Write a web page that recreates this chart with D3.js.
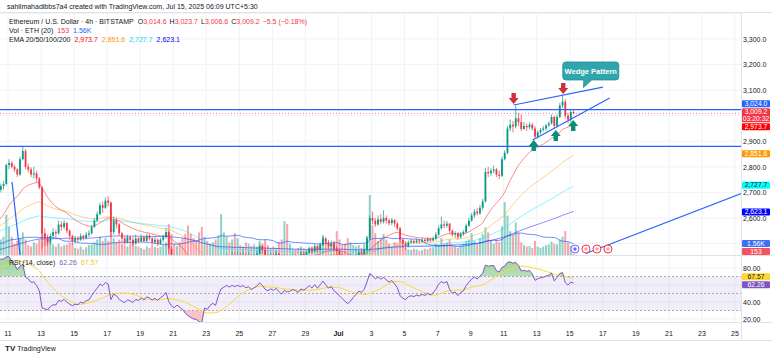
<!DOCTYPE html>
<html>
<head>
<meta charset="utf-8">
<title>ETHUSD 4h</title>
<style>
	body { margin: 0; background: #fff; }
	svg { display: block; font-family: "Liberation Sans", Arial, sans-serif; }
</style>
</head>
<body>
<svg id="chart" width="780" height="358"></svg>
<script src="https://cdn.jsdelivr.net/npm/d3@7"></script>
<script>
// ---- data (4h candles, chart time UTC+5:30, first candle Jun 6 01:30) ----
const firstCandle = "2025-06-06 01:30"
const firstOpen = 2420

const closes = [
	2430,2445,2460,2475,2480,2478, 2485,2495,2510,2520,2515,2525, 2520,2510,2505,2515,2500,2510,
	2500,2520,2540,2600,2650,2680, 2690,2700,2710,2725,2733,2807,
	2815,2800,2790,2770,2830,2862, 2800,2790,2770,2775,2755,2720, 2540,2525,2505,2530,2545,2540,
	2575,2565,2580,2550,2530,2510, 2520,2515,2530,2522,2535,2540, 2565,2590,2615,2650,2640,2668,
	2660,2545,2590,2575,2540,2520, 2505,2525,2515,2500,2520,2510, 2525,2510,2530,2520,2505,2515,
	2500,2515,2525,2545,2480,2440, 2420,2435,2410,2390,2340,2300, 2270,2240,2230,2180,2150,2240,
	2220,2250,2265,2240,2320,2400, 2420,2445,2430,2450,2440,2455, 2445,2455,2440,2450,2430,2445,
	2460,2490,2475,2450,2440,2455, 2445,2460,2440,2425,2450,2440, 2445,2455,2450,2440,2460,2455,
	2465,2480,2470,2490,2475,2495, 2520,2505,2490,2500,2480,2470, 2455,2440,2425,2410,2420,2435,
	2450,2465,2460,2475,2520,2600, 2590,2575,2595,2585,2600,2590, 2580,2592,2578,2560,2515,2500,
	2490,2505,2510,2505,2512,2508, 2515,2510,2518,2512,2520,2535, 2560,2575,2570,2578,2550,2535,
	2540,2525,2538,2545,2570,2590, 2610,2625,2618,2640,2665,2780, 2775,2785,2790,2770,2765,2830,
	2855,2950,2965,2958,2990,2975, 2948,2960,2955,2965,2950,2918, 2935,2945,2950,2962,2970,2995,
	2960,2995,3040,3055,3000,2985, 3014.6,3009.2
]
const highs = [
	2440,2452,2468,2482,2490,2488, 2492,2502,2518,2530,2526,2532, 2532,2526,2516,2522,2520,2516,
	2515,2528,2548,2610,2660,2690, 2705,2712,2720,2735,2745,2812,
	2830,2822,2808,2795,2840,2878, 2870,2812,2798,2800,2785,2760, 2725,2560,2535,2540,2560,2555,
	2590,2588,2592,2585,2555,2535, 2530,2528,2540,2535,2545,2552, 2572,2600,2625,2660,2665,2680,
	2685,2665,2605,2600,2580,2545, 2530,2535,2530,2525,2535,2525, 2535,2530,2540,2538,2525,2528,
	2520,2522,2535,2560,2550,2490, 2450,2445,2440,2420,2400,2350, 2310,2285,2260,2245,2200,2255,
	2260,2270,2290,2280,2340,2420, 2440,2460,2455,2470,2465,2470, 2465,2470,2462,2468,2458,2460,
	2470,2498,2495,2485,2460,2465, 2462,2470,2465,2450,2460,2458, 2455,2462,2460,2455,2470,2468,
	2472,2488,2485,2498,2495,2505, 2528,2525,2515,2512,2505,2490, 2478,2462,2450,2435,2432,2445,
	2458,2472,2475,2482,2530,2610, 2625,2600,2610,2615,2630,2610, 2598,2600,2595,2585,2565,2520,
	2510,2512,2518,2515,2520,2518, 2522,2520,2525,2522,2528,2545, 2570,2605,2590,2588,2580,2555,
	2548,2545,2546,2552,2578,2600, 2620,2635,2640,2652,2675,2795, 2800,2795,2805,2795,2785,2840,
	2865,2960,2985,2980,3040,3010, 3005,2975,2970,2975,2972,2960, 2942,2952,2960,2968,2978,3005,
	3000,3005,3050,3080,3065,3010, 3022,3023.7
]
const lows = [
	2412,2425,2440,2455,2468,2470, 2472,2480,2490,2505,2508,2510, 2512,2502,2495,2500,2492,2495,
	2490,2495,2515,2535,2595,2640, 2668,2680,2690,2700,2712,2728,
	2790,2795,2780,2760,2765,2825, 2790,2778,2760,2755,2740,2712, 2480,2490,2490,2495,2520,2525,
	2535,2550,2555,2540,2515,2495, 2500,2505,2510,2512,2515,2525, 2535,2560,2585,2610,2620,2635,
	2645,2530,2535,2560,2530,2505, 2495,2500,2500,2490,2495,2500, 2505,2505,2508,2512,2495,2500,
	2490,2495,2505,2520,2460,2420, 2405,2410,2395,2370,2320,2280, 2240,2220,2200,2150,2111,2140,
	2200,2210,2240,2225,2235,2310, 2395,2410,2415,2425,2420,2430, 2430,2435,2425,2430,2415,2420,
	2440,2455,2460,2440,2425,2430, 2435,2440,2425,2410,2420,2430, 2435,2440,2442,2432,2438,2448,
	2450,2460,2462,2468,2465,2470, 2490,2495,2480,2485,2470,2455, 2445,2430,2415,2395,2400,2412,
	2428,2445,2448,2455,2470,2515, 2575,2565,2570,2575,2578,2578, 2570,2572,2565,2552,2505,2485,
	2475,2485,2498,2498,2500,2500, 2502,2502,2505,2505,2508,2512, 2530,2555,2560,2562,2540,2528,
	2522,2515,2520,2530,2540,2565, 2585,2600,2610,2612,2630,2660, 2760,2765,2775,2760,2752,2760,
	2825,2850,2940,2935,2950,2960, 2940,2945,2940,2948,2942,2910, 2912,2928,2938,2942,2955,2965,
	2948,2955,2990,3030,2990,2970, 2975,3006.6
]
// volume, thousand ETH
const volumes = [
	2.6,2.0,1.8,1.6,1.5,1.2, 1.0,1.1,1.4,1.3,1.0,0.9, 0.8,0.9,1.0,1.2,1.1,1.0,
	1.2,1.5,1.8,3.2,3.6,2.8, 2.4,2.0,1.8,2.2,2.6,5.7,
	4.0,2.6,1.6,2.0,2.4,3.2, 2.2,1.4,1.2,1.8,1.6,2.2, 4.0,3.0,2.2,1.8,1.5,1.2,
	1.6,1.2,1.4,1.5,1.8,1.6, 1.0,0.9,1.2,0.8,1.1,1.4, 1.5,1.8,2.2,2.6,2.0,2.4,
	2.0,3.6,2.4,1.8,2.2,1.6, 1.4,1.2,1.6,1.8,1.3,1.2, 1.0,0.8,1.2,1.0,1.4,1.1,
	1.0,1.2,1.5,1.8,4.4,3.0, 1.6,1.3,1.8,2.4,3.0,4.2, 3.0,2.4,2.0,3.2,4.0,2.6,
	2.0,1.6,1.8,2.2,2.8,5.8, 3.2,2.6,1.8,2.2,3.1,2.4, 1.4,1.2,1.8,1.6,1.3,1.5,
	1.2,2.0,1.6,2.2,1.4,1.0, 1.2,1.0,1.8,2.2,4.8,4.4, 1.6,0.9,0.8,1.0,1.2,0.9,
	0.8,1.0,1.2,0.9,1.1,1.6, 2.8,1.8,1.4,1.6,2.0,3.4, 2.2,1.4,1.6,2.4,1.8,1.4,
	1.2,1.4,1.0,1.6,2.6,8.5, 4.2,3.1,2.0,2.4,3.0,2.2, 1.6,1.2,1.8,1.6,2.6,2.2,
	1.0,0.8,0.7,0.9,0.8,0.6, 0.7,0.9,0.8,1.0,1.1,1.6, 1.4,2.4,1.6,1.8,2.2,1.4,
	1.2,1.0,1.4,1.6,2.0,2.2, 3.1,2.0,1.6,2.4,3.0,3.9, 3.2,2.0,1.6,2.2,1.8,4.1,
	7.5,5.6,3.4,2.8,4.6,3.2, 1.8,1.4,1.2,1.3,1.0,2.0, 1.2,1.0,1.2,1.4,1.5,1.9,
	1.6,1.5,2.2,2.6,3.4,1.8, 1.3,0.153
]

const emaPeriods = [20, 50, 100, 200]
const emaSeeds = [2550, 2580, 2548, 2455]
const emaValues = [2973.7, 2851.6, 2727.7, 2623.1]

const ohlc = ["3,014.6", "3,023.7", "3,006.6", "3,009.2"]
const change = "\u22125.5 (\u22120.18%)"
const volLast = 0.153, volAvg = 1.56
const rsiLast = 62.26, rsiAvg = 67.57
const lastPrice = 3009.2
const countdown = "03:20:32"

const priceTicks = [2500, 2600, 2700, 2800, 2900, 3000, 3100, 3200, 3300, 3400]
const rsiTicks = [20, 40, 60, 80]
const tickDates = ["2025-06-11","2025-06-13","2025-06-15","2025-06-17","2025-06-19","2025-06-21",
	"2025-06-23","2025-06-25","2025-06-27","2025-06-29","2025-07-01","2025-07-03","2025-07-05",
	"2025-07-07","2025-07-09","2025-07-11","2025-07-13","2025-07-15","2025-07-17","2025-07-19",
	"2025-07-21","2025-07-23","2025-07-25"]
const tickLabels = ["11","13","15","17","19","21","23","25","27","29","Jul","3","5","7","9","11","13","15","17","19","21","23","25"]

// drawings
const levelPrices = [3024, 2880]
const trendStarts = ["2025-07-11 14:30", "2025-07-12 18:10", "2025-07-15 23:15", "2025-06-11 05:50"]
const trendStartPrices = [3042, 2905, 2461, 2741]
const trendEnds = ["2025-07-17 00:00", "2025-07-17 10:00", "2025-07-25 11:30", "2025-06-11 17:30"]
const trendEndPrices = [3112, 3069, 2698, 2455]
const sellArrowTimes = ["2025-07-11 14:30", "2025-07-14 14:30"]
const sellArrowPrices = [3046, 3085]
const buyArrowTimes = ["2025-07-12 19:40", "2025-07-14 03:40", "2025-07-15 05:00"]
const buyArrowPrices = [2905, 2944, 2983]
const calloutText = "Wedge Pattern"
const calloutTime = "2025-07-16 06:30", calloutPrice = 3175
const calloutTipTime = "2025-07-15 19:50", calloutTipPrice = 3110
const eventTimes = ["2025-07-15 07:30", "2025-07-15 23:30", "2025-07-16 15:30", "2025-07-17 07:30"]

// ---- layout ----
const plotRight = 741
const mainTop = 13, mainBottom = 255
const rsiTop = 256, rsiBottom = 322
const axisX = 743
const up = "#089981", down = "#f23645"
const emaColors = ["#ff0000", "#ff9800", "#00e5ff", "#0000ff"]
const textCol = "#131722"

const parseDay = d3.utcParse("%Y-%m-%d")
const parseTime = d3.utcParse("%Y-%m-%d %H:%M")
const stepMs = 4 * 3600 * 1000
const t0 = parseTime(firstCandle).getTime()

const candles = closes.map((c, i) => ({
	t: new Date(t0 + i * stepMs),
	o: i ? closes[i - 1] : firstOpen,
	h: highs[i], l: lows[i], c: c, v: volumes[i]
}))

function ema(vals, n, seed) {
	const k = 2 / (n + 1)
	let e = seed
	return vals.map(v => e = e + k * (v - e))
}
function sma(vals, n) {
	return vals.map((v, i) => {
		if (i < n - 1) return null
		const part = vals.slice(i - n + 1, i + 1)
		if (part.some(p => p == null)) return null
		return d3.mean(part)
	})
}
function rsi(vals, n) {
	const out = vals.map(() => null)
	let ag = 0, al = 0
	for (let i = 1; i < vals.length; i++) {
		const ch = vals[i] - vals[i - 1]
		const g = Math.max(ch, 0), l = Math.max(-ch, 0)
		if (i <= n) {
			ag += g / n; al += l / n
			if (i < n) continue
		} else {
			ag = (ag * (n - 1) + g) / n
			al = (al * (n - 1) + l) / n
		}
		out[i] = al === 0 ? 100 : 100 - 100 / (1 + ag / al)
	}
	return out
}

const emas = emaPeriods.map((n, k) => ema(closes, n, emaSeeds[k]))
const volMa = sma(volumes, 20)
const rsiVals = rsi(closes, 14)
const rsiMa = sma(rsiVals, 14)

// ---- scales ----
const x = d3.scaleUtc()
	.domain([parseDay("2025-06-11"), parseDay("2025-07-25")])
	.range([8, 735])
const y = d3.scaleLinear().domain([2600, 3300]).range([218, 39])
const yv = d3.scaleLinear().domain([0, 10]).range([mainBottom, mainBottom - 70.5])
const yr = d3.scaleLinear().domain([20, 80]).range([319, 268])

const svg = d3.select("#chart")
svg.append("rect").attr("width", 780).attr("height", 358).attr("fill", "#fff")

const defs = svg.append("defs")
defs.append("clipPath").attr("id", "clipMain").append("rect")
	.attr("x", 0).attr("y", mainTop).attr("width", plotRight).attr("height", mainBottom - mainTop)
defs.append("clipPath").attr("id", "clipRsi").append("rect")
	.attr("x", 0).attr("y", rsiTop).attr("width", plotRight).attr("height", rsiBottom - rsiTop)
defs.append("clipPath").attr("id", "clipOb").append("rect")
	.attr("x", 0).attr("y", rsiTop).attr("width", plotRight).attr("height", yr(70) - rsiTop)
defs.append("clipPath").attr("id", "clipOs").append("rect")
	.attr("x", 0).attr("y", yr(30)).attr("width", plotRight).attr("height", rsiBottom - yr(30))
const obGrad = defs.append("linearGradient").attr("id", "obGrad")
	.attr("x1", 0).attr("y1", 0).attr("x2", 0).attr("y2", 1)
obGrad.append("stop").attr("offset", "0%").attr("stop-color", "#4caf50").attr("stop-opacity", 0.55)
obGrad.append("stop").attr("offset", "100%").attr("stop-color", "#4caf50").attr("stop-opacity", 0.08)

// ---- grid ----
const grid = svg.append("g")
grid.selectAll(".vg").data(tickDates).join("line")
	.attr("x1", d => x(parseDay(d))).attr("x2", d => x(parseDay(d)))
	.attr("y1", mainTop).attr("y2", rsiBottom)
	.attr("stroke", "#f0f3fa").attr("stroke-width", 1)
grid.selectAll(".hg").data(priceTicks.filter(p => y(p) > mainTop && y(p) < mainBottom)).join("line")
	.attr("x1", 0).attr("x2", plotRight).attr("y1", d => y(d)).attr("y2", d => y(d))
	.attr("stroke", "#f0f3fa")
grid.selectAll(".rg").data(rsiTicks).join("line")
	.attr("x1", 0).attr("x2", plotRight).attr("y1", d => yr(d)).attr("y2", d => yr(d))
	.attr("stroke", "#f0f3fa")

// pane borders
svg.append("line").attr("x1", 0).attr("x2", 772).attr("y1", mainTop - 0.5).attr("y2", mainTop - 0.5).attr("stroke", "#e0e3eb")
svg.append("line").attr("x1", 0).attr("x2", 772).attr("y1", mainBottom + 0.5).attr("y2", mainBottom + 0.5).attr("stroke", "#e0e3eb")
svg.append("line").attr("x1", 0).attr("x2", 772).attr("y1", rsiBottom + 0.5).attr("y2", rsiBottom + 0.5).attr("stroke", "#e0e3eb")
svg.append("line").attr("x1", 0).attr("x2", 772).attr("y1", 340.5).attr("y2", 340.5).attr("stroke", "#e0e3eb")
svg.append("line").attr("x1", plotRight + 0.5).attr("x2", plotRight + 0.5).attr("y1", mainTop).attr("y2", 340).attr("stroke", "#e0e3eb")

// ---- main pane ----
const main = svg.append("g").attr("clip-path", "url(#clipMain)")

main.selectAll(".vol").data(candles).join("rect")
	.attr("x", d => x(d.t) - 1).attr("width", 2)
	.attr("y", d => yv(d.v)).attr("height", d => mainBottom - yv(d.v))
	.attr("fill", d => d.c >= d.o ? up : down).attr("fill-opacity", 0.45)

main.append("path").datum(candles.map((d, i) => [d.t, volMa[i]]))
	.attr("fill", "none").attr("stroke", "#2962ff").attr("stroke-opacity", 0.7).attr("stroke-width", 1)
	.attr("d", d3.line().defined(d => d[1] != null).x(d => x(d[0])).y(d => yv(d[1])))

emas.forEach((vals, k) => {
	main.append("path").datum(candles.map((d, i) => [d.t, vals[i]]))
		.attr("fill", "none").attr("stroke", emaColors[k]).attr("stroke-opacity", 0.45).attr("stroke-width", 1)
		.attr("d", d3.line().x(d => x(d[0])).y(d => y(d[1])))
})

main.selectAll(".wick").data(candles).join("line")
	.attr("x1", d => x(d.t)).attr("x2", d => x(d.t))
	.attr("y1", d => y(d.h)).attr("y2", d => y(d.l))
	.attr("stroke", d => d.c >= d.o ? up : down).attr("stroke-width", 0.7)
main.selectAll(".body").data(candles).join("rect")
	.attr("x", d => x(d.t) - 0.9).attr("width", 1.8)
	.attr("y", d => y(Math.max(d.o, d.c)))
	.attr("height", d => Math.max(0.8, Math.abs(y(d.o) - y(d.c))))
	.attr("fill", d => d.c >= d.o ? up : down)

// current price line
main.append("line").attr("x1", 0).attr("x2", plotRight)
	.attr("y1", y(lastPrice)).attr("y2", y(lastPrice))
	.attr("stroke", down).attr("stroke-opacity", 0.6).attr("stroke-dasharray", "1,2")

// horizontal levels
main.selectAll(".lvl").data(levelPrices).join("line")
	.attr("x1", 0).attr("x2", plotRight).attr("y1", d => y(d)).attr("y2", d => y(d))
	.attr("stroke", "#2962ff").attr("stroke-width", 1.3)

// trend lines
main.selectAll(".trend").data(trendStarts).join("line")
	.attr("x1", d => x(parseTime(d))).attr("y1", (d, i) => y(trendStartPrices[i]))
	.attr("x2", (d, i) => x(parseTime(trendEnds[i]))).attr("y2", (d, i) => y(trendEndPrices[i]))
	.attr("stroke", "#2962ff").attr("stroke-width", 1.2)

// arrows
const arrowPath = "M0,0L-5,-6L-2.2,-6L-2.2,-11L2.2,-11L2.2,-6L5,-6Z"
main.selectAll(".sell").data(sellArrowTimes).join("path")
	.attr("d", arrowPath)
	.attr("transform", (d, i) => `translate(${x(parseTime(d))},${y(sellArrowPrices[i])})`)
	.attr("fill", "#d0303d")
main.selectAll(".buy").data(buyArrowTimes).join("path")
	.attr("d", arrowPath)
	.attr("transform", (d, i) => `translate(${x(parseTime(d))},${y(buyArrowPrices[i])}) scale(1,-1)`)
	.attr("fill", "#0b8f74")

// callout
{
	const cx = x(parseTime(calloutTime)), cy = y(calloutPrice)
	const tx = x(parseTime(calloutTipTime)), ty = y(calloutTipPrice)
	const w = 56, h = 18, r = 3
	const l = cx - w / 2, t = cy - h / 2, rr = cx + w / 2, b = cy + h / 2
	const p = d3.path()
	p.moveTo(l + r, t)
	p.lineTo(rr - r, t); p.quadraticCurveTo(rr, t, rr, t + r)
	p.lineTo(rr, b - r); p.quadraticCurveTo(rr, b, rr - r, b)
	p.lineTo(cx + 1, b); p.lineTo(tx, ty); p.lineTo(cx - 7, b)
	p.lineTo(l + r, b); p.quadraticCurveTo(l, b, l, b - r)
	p.lineTo(l, t + r); p.quadraticCurveTo(l, t, l + r, t)
	p.closePath()
	svg.append("path").attr("d", p.toString()).attr("fill", "#2ea6ac").attr("stroke", "#1f8e94").attr("stroke-width", 0.8)
	svg.append("text").attr("x", cx).attr("y", cy + 2.6).attr("text-anchor", "middle")
		.attr("font-size", 7.5).attr("font-weight", 600).attr("fill", "#fff").text(calloutText)
}

// event icons
const ev = svg.selectAll(".ev").data(eventTimes).join("g")
	.attr("transform", d => `translate(${x(parseTime(d))},${mainBottom - 6})`)
ev.append("circle").attr("r", 4).attr("fill", "#fff")
	.attr("stroke", (d, i) => i ? "#f23645" : "#7b61ff").attr("stroke-width", 1)
ev.append("circle").attr("r", 1.8).attr("fill", (d, i) => i ? "#f7a1a8" : "#7b61ff")

// ---- RSI pane ----
const rp = svg.append("g").attr("clip-path", "url(#clipRsi)")
rp.append("rect").attr("x", 0).attr("width", plotRight)
	.attr("y", yr(70)).attr("height", yr(30) - yr(70))
	.attr("fill", "#7e57c2").attr("fill-opacity", 0.1)
rp.selectAll(".band").data([70, 50, 30]).join("line")
	.attr("x1", 0).attr("x2", plotRight).attr("y1", d => yr(d)).attr("y2", d => yr(d))
	.attr("stroke", "#787b86").attr("stroke-opacity", 0.6).attr("stroke-dasharray", "2,2")

const rsiPts = candles.map((d, i) => [d.t, rsiVals[i]])
rp.append("path").datum(rsiPts).attr("clip-path", "url(#clipOb)")
	.attr("fill", "url(#obGrad)")
	.attr("d", d3.area().defined(d => d[1] != null).x(d => x(d[0])).y0(yr(70)).y1(d => yr(d[1])))
rp.append("path").datum(rsiPts).attr("clip-path", "url(#clipOs)")
	.attr("fill", "#f23645").attr("fill-opacity", 0.3)
	.attr("d", d3.area().defined(d => d[1] != null).x(d => x(d[0])).y0(yr(30)).y1(d => yr(d[1])))
rp.append("path").datum(candles.map((d, i) => [d.t, rsiMa[i]]))
	.attr("fill", "none").attr("stroke", "#fdd835").attr("stroke-width", 1)
	.attr("d", d3.line().defined(d => d[1] != null).x(d => x(d[0])).y(d => yr(d[1])))
rp.append("path").datum(rsiPts)
	.attr("fill", "none").attr("stroke", "#7e57c2").attr("stroke-width", 1)
	.attr("d", d3.line().defined(d => d[1] != null).x(d => x(d[0])).y(d => yr(d[1])))

// ---- value tags on the price scale ----
function spread(tags, gap, lo, hi) {
	tags.sort((a, b) => a.y - b.y)
	let groups = tags.map(t => ({ items: [t] }))
	const place = g => {
		const c = d3.mean(g.items, t => t.y)
		const h = d3.sum(g.items, t => t.h) + gap * (g.items.length - 1)
		g.top = Math.max(lo, Math.min(hi - h, c - h / 2)); g.h = h
	}
	groups.forEach(place)
	let merged = true
	while (merged) {
		merged = false
		for (let i = 1; i < groups.length; i++) {
			const a = groups[i - 1], b = groups[i]
			if (a.top + a.h + gap > b.top) {
				const g = { items: a.items.concat(b.items) }
				place(g)
				groups.splice(i - 1, 2, g)
				merged = true
				break
			}
		}
	}
	groups.forEach(g => {
		let top = g.top
		g.items.forEach(t => { t.top = top; top += t.h + gap })
	})
	return tags
}
const fmtTag = d3.format(",.1f")
const mainTags = spread([
	{ y: y(levelPrices[0]), h: 7, lines: [fmtTag(levelPrices[0])], bg: "#2962ff", fg: "#fff" },
	{ y: y(lastPrice), h: 14, lines: [fmtTag(lastPrice), countdown], bg: "#f23645", fg: "#fff" },
	{ y: y(emaValues[0]), h: 7, lines: [fmtTag(emaValues[0])], bg: emaColors[0], fg: "#fff" },
	{ y: y(emaValues[1]), h: 7, lines: [fmtTag(emaValues[1])], bg: emaColors[1], fg: "#fff" },
	{ y: y(emaValues[2]), h: 7, lines: [fmtTag(emaValues[2])], bg: "#00ffff", fg: textCol },
	{ y: y(emaValues[3]), h: 7, lines: [fmtTag(emaValues[3])], bg: emaColors[3], fg: "#fff" },
	{ y: yv(volAvg), h: 7, lines: [volAvg + "K"], bg: "#3f6ff5", fg: "#fff" },
	{ y: yv(volLast), h: 7, lines: [String(volLast * 1000)], bg: "#f7525f", fg: "#fff" }
], 1, mainTop, mainBottom)
const rsiTags = spread([
	{ y: yr(rsiAvg), h: 7, lines: [rsiAvg.toFixed(2)], bg: "#fdd835", fg: textCol },
	{ y: yr(rsiLast), h: 7, lines: [rsiLast.toFixed(2)], bg: "#7e57c2", fg: "#fff" }
], 1, rsiTop, rsiBottom)
const allTags = mainTags.concat(rsiTags)
// scale labels that sit under a tag are hidden, as on the platform
const freeOfTags = py => !allTags.some(t => py > t.top - 2 && py < t.top + t.h + 2)

// ---- axes ----
const fmtP = d3.format(",.1f")
svg.append("g").attr("transform", `translate(${axisX},0)`)
	.call(d3.axisRight(y).tickValues(priceTicks.filter(p => y(p) > mainTop + 4 && y(p) < mainBottom - 4 && freeOfTags(y(p))))
		.tickFormat(fmtP).tickSize(0).tickPadding(0))
	.call(g => g.select(".domain").remove())
	.selectAll("text").attr("font-size", 7).attr("fill", textCol).attr("font-family", "Liberation Sans, Arial")
svg.append("g").attr("transform", `translate(${axisX},0)`)
	.call(d3.axisRight(yr).tickValues(rsiTicks.filter(v => freeOfTags(yr(v))))
		.tickFormat(d3.format(".2f")).tickSize(0).tickPadding(0))
	.call(g => g.select(".domain").remove())
	.selectAll("text").attr("font-size", 7).attr("fill", textCol).attr("font-family", "Liberation Sans, Arial")

svg.append("g").selectAll("text").data(tickDates).join("text")
	.attr("x", d => x(parseDay(d))).attr("y", 335.5)
	.attr("text-anchor", "middle").attr("font-size", 7).attr("fill", textCol)
	.attr("font-weight", (d, i) => tickLabels[i] === "Jul" ? 700 : 400)
	.text((d, i) => tickLabels[i])

const tagG = svg.append("g").selectAll("g").data(allTags).join("g")
tagG.append("rect").attr("x", 742).attr("width", 28).attr("y", d => d.top).attr("height", d => d.h)
	.attr("rx", 1).attr("fill", d => d.bg)
tagG.each(function (d) {
	d3.select(this).selectAll("text").data(d.lines).join("text")
		.attr("x", 756).attr("y", (l, i) => d.top + 5.6 + i * 7)
		.attr("text-anchor", "middle").attr("font-size", 6.8).attr("fill", d.fg).text(l => l)
})

// ---- legends ----
const legend = svg.append("g").attr("font-size", 7).attr("fill", textCol)
legend.append("text").attr("x", 7).attr("y", 8.5)
	.text("sahilmahadibbs7a4 created with TradingView.com, Jul 15, 2025 06:09 UTC+5:30")

const l2 = legend.append("text").attr("x", 9).attr("y", 23.5)
l2.append("tspan").text("Ethereum / U.S. Dollar \u00b7 4h \u00b7 BITSTAMP")
;["O", "H", "L", "C"].forEach((k, i) => {
	l2.append("tspan").attr("dx", i ? 3 : 4).text(k)
	l2.append("tspan").attr("fill", down).text(ohlc[i])
})
l2.append("tspan").attr("dx", 3).attr("fill", down).text(change)

const l3 = legend.append("text").attr("x", 9).attr("y", 32.5)
l3.append("tspan").text("Vol \u00b7 ETH (20)")
l3.append("tspan").attr("dx", 4).attr("fill", down).text(String(volLast * 1000))
l3.append("tspan").attr("dx", 4).attr("fill", "#2962ff").text(volAvg + "K")

const l4 = legend.append("text").attr("x", 9).attr("y", 41.5)
l4.append("tspan").text("EMA 20/50/100/200")
const emaTextCols = ["#ff0000", "#ff9800", "#00d5e8", "#0000ff"]
emaValues.forEach((v, k) => l4.append("tspan").attr("dx", 4).attr("fill", emaTextCols[k]).text(fmtTag(v)))

const l5 = legend.append("text").attr("x", 9).attr("y", 264.5)
l5.append("tspan").text("RSI (14, close)")
l5.append("tspan").attr("dx", 4).attr("fill", "#7e57c2").text(rsiLast.toFixed(2))
l5.append("tspan").attr("dx", 4).attr("fill", "#f5c518").text(rsiAvg.toFixed(2))

// logo
const logo = svg.append("text").attr("x", 5).attr("y", 350.5).attr("font-size", 7).attr("fill", textCol)
logo.append("tspan").attr("font-weight", 900).attr("font-size", 8).text("TV")
logo.append("tspan").attr("dx", 2).text("TradingView")
</script>
</body>
</html>
